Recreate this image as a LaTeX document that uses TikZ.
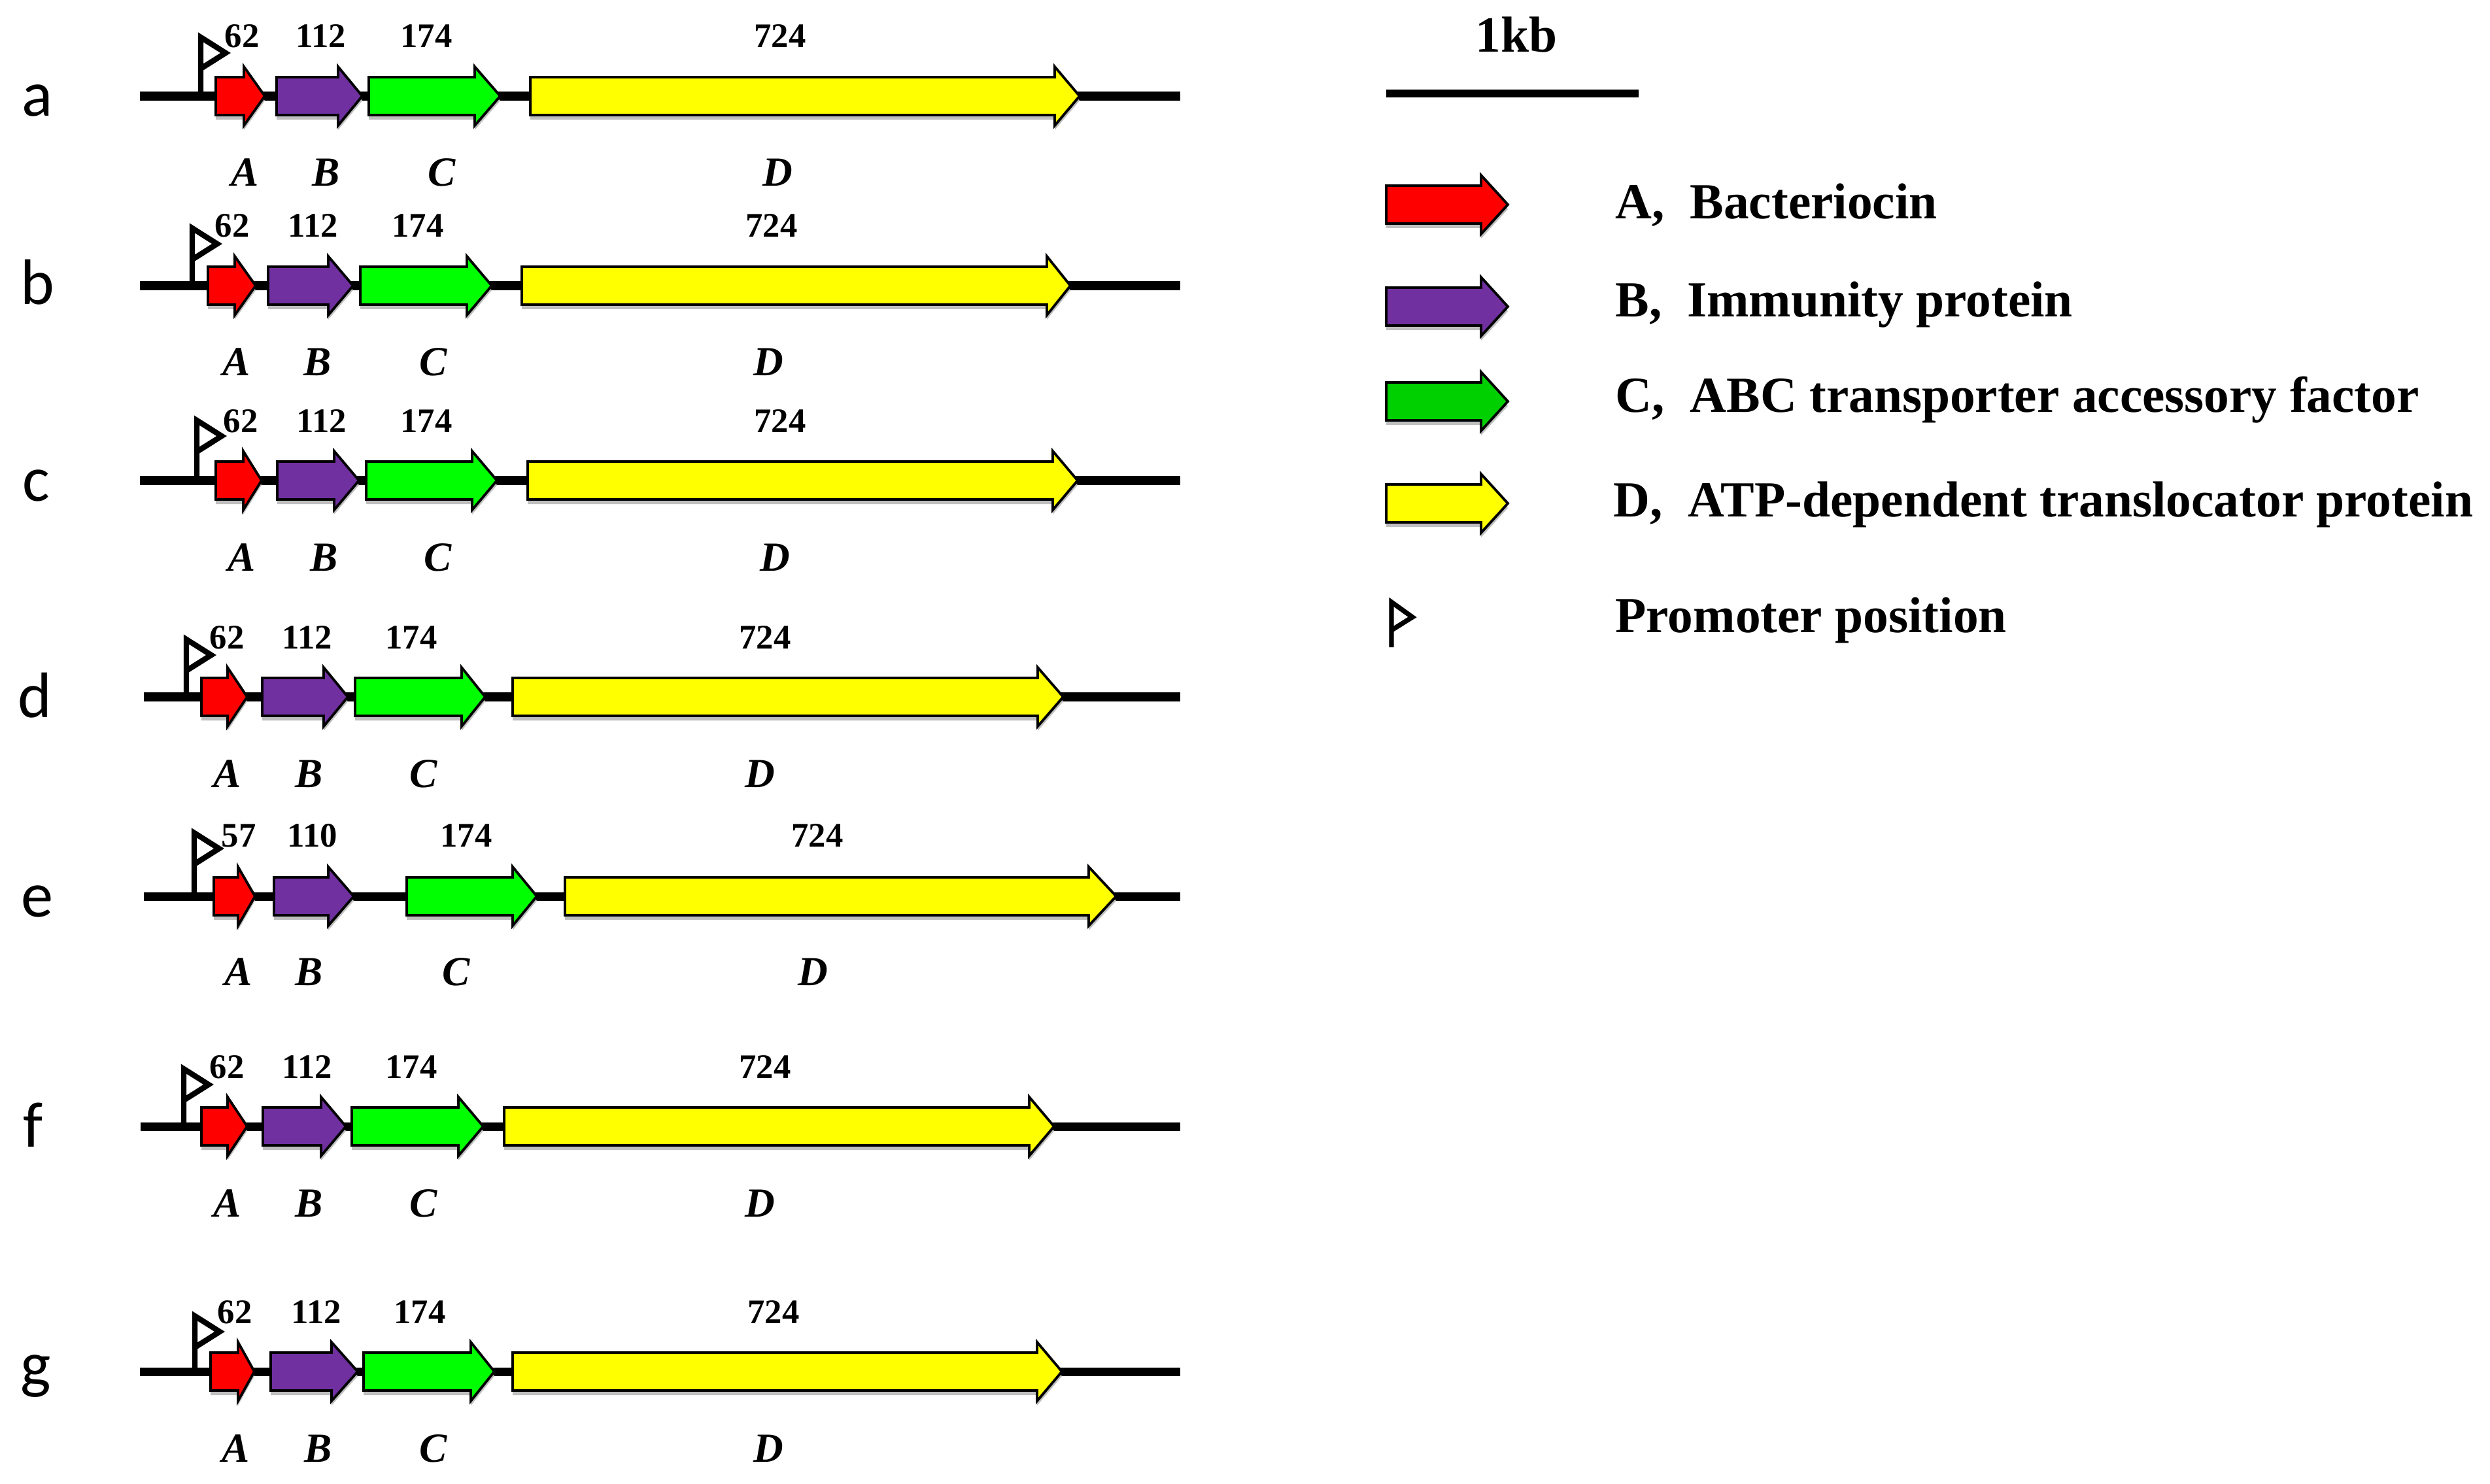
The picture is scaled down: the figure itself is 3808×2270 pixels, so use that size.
\documentclass[tikz,border=0pt]{standalone}
\usepackage{fontspec}
\setmainfont{Liberation Serif}
\newfontfamily\labfont{Carlito}
\definecolor{gRed}{HTML}{FF0000}
\definecolor{gPurple}{HTML}{7030A0}
\definecolor{gGreen}{HTML}{00FF00}
\definecolor{gGreenL}{HTML}{00D000}
\definecolor{gYellow}{HTML}{FFFF00}
\tikzset{
 num/.style={font=\fontsize{15}{18}\selectfont\bfseries, anchor=base, inner sep=0pt},
 gl/.style={font=\fontsize{18}{21}\selectfont\bfseries\itshape, anchor=base, inner sep=0pt},
 rowlab/.style={font=\labfont\fontsize{28}{32}\selectfont, anchor=base, inner sep=0pt},
 legtext/.style={font=\fontsize{22}{26}\selectfont\bfseries, anchor=base west, inner sep=0pt},
 backbone/.style={line width=3.7pt},
 prom/.style={line width=2.4pt, line join=miter},
 geneshape/.style={draw=black, line width=1.1pt, line join=miter},
 shadowshape/.style={fill=black!25},
}
% #1 left, #2 head base, #3 tip, #4 centre y, #5 colour
\newcommand\gene[5]{%
  \fill[shadowshape] (#1,#4-29+7) -- (#2,#4-29+7) -- (#2,#4-45+7) -- (#3,#4+7) -- (#2,#4+45+7) -- (#2,#4+29+7) -- (#1,#4+29+7) -- cycle;
  \filldraw[geneshape, fill=#5] (#1,#4-29) -- (#2,#4-29) -- (#2,#4-45) -- (#3,#4) -- (#2,#4+45) -- (#2,#4+29) -- (#1,#4+29) -- cycle;}
% #1 x, #2 centre y, #3 height
\newcommand\promoter[3]{%
  \draw[prom] (#1,#2) -- (#1,#2-#3) -- (#1+38,#2-#3+24) -- (#1,#2-#3+48);}
\begin{document}
\begin{tikzpicture}[x=0.01cm, y=-0.01cm]
\useasboundingbox (0,0) rectangle (3808,2270);
\fill[white] (0,0) rectangle (3808,2270);

% ---------- row a ----------
\draw[backbone] (214,147) -- (1805,147);
\promoter{307}{147}{90}
\gene{330}{373}{405}{147}{gRed}
\gene{423}{517}{554}{147}{gPurple}
\gene{564}{726}{765}{147}{gGreen}
\gene{811}{1613}{1651}{147}{gYellow}
\node[rowlab] (la) at (57,178) {a};
\node[num] (na1) at (370,73) {62};
\node[num] (na2) at (491,73) {112};
\node[num] (na3) at (652,73) {174};
\node[num] (na4) at (1193,73) {724};
\node[gl] (ga1) at (375,285) {A};
\node[gl] (ga2) at (499,285) {B};
\node[gl] (ga3) at (676,285) {C};
\node[gl] (ga4) at (1189,285) {D};

% ---------- row b ----------
\draw[backbone] (214,437) -- (1805,437);
\promoter{294}{437}{88}
\gene{318}{359}{391}{437}{gRed}
\gene{410}{502}{540}{437}{gPurple}
\gene{551}{714}{752}{437}{gGreen}
\gene{798}{1601}{1637}{437}{gYellow}
\node[rowlab] (lb) at (57,466) {b};
\node[num] (nb1) at (355,363) {62};
\node[num] (nb2) at (479,363) {112};
\node[num] (nb3) at (639,363) {174};
\node[num] (nb4) at (1180,363) {724};
\node[gl] (gb1) at (362,575) {A};
\node[gl] (gb2) at (486,575) {B};
\node[gl] (gb3) at (663,575) {C};
\node[gl] (gb4) at (1175,575) {D};

% ---------- row c ----------
\draw[backbone] (214,735) -- (1805,735);
\promoter{301}{735}{92}
\gene{330}{372}{400}{735}{gRed}
\gene{424}{511}{549}{735}{gPurple}
\gene{560}{722}{760}{735}{gGreen}
\gene{807}{1610}{1648}{735}{gYellow}
\node[rowlab] (lc) at (55,766) {c};
\node[num] (nc1) at (368,661) {62};
\node[num] (nc2) at (492,661) {112};
\node[num] (nc3) at (652,661) {174};
\node[num] (nc4) at (1193,661) {724};
\node[gl] (gc1) at (370,873) {A};
\node[gl] (gc2) at (496,873) {B};
\node[gl] (gc3) at (670,873) {C};
\node[gl] (gc4) at (1185,873) {D};

% ---------- row d ----------
\draw[backbone] (220,1066) -- (1805,1066);
\promoter{285}{1066}{88}
\gene{308}{348}{378}{1066}{gRed}
\gene{401}{495}{532}{1066}{gPurple}
\gene{543}{706}{742}{1066}{gGreen}
\gene{784}{1587}{1626}{1066}{gYellow}
\node[rowlab] (ld) at (53,1097) {d};
\node[num] (nd1) at (347,992) {62};
\node[num] (nd2) at (470,992) {112};
\node[num] (nd3) at (629,992) {174};
\node[num] (nd4) at (1170,992) {724};
\node[gl] (gd1) at (348,1204) {A};
\node[gl] (gd2) at (473,1204) {B};
\node[gl] (gd3) at (648,1204) {C};
\node[gl] (gd4) at (1162,1204) {D};

% ---------- row e ----------
\draw[backbone] (220,1371) -- (1805,1371);
\promoter{297}{1371}{97}
\gene{327}{364}{390}{1371}{gRed}
\gene{419}{502}{541}{1371}{gPurple}
\gene{622}{784}{821}{1371}{gGreen}
\gene{864}{1665}{1707}{1371}{gYellow}
\node[rowlab] (le) at (57,1402) {e};
\node[num] (ne1) at (365,1295) {57};
\node[num] (ne2) at (478,1295) {110};
\node[num] (ne3) at (713,1295) {174};
\node[num] (ne4) at (1250,1295) {724};
\node[gl] (ge1) at (365,1507) {A};
\node[gl] (ge2) at (473,1507) {B};
\node[gl] (ge3) at (698,1507) {C};
\node[gl] (ge4) at (1243,1507) {D};

% ---------- row f ----------
\draw[backbone] (215,1723) -- (1805,1723);
\promoter{281}{1723}{88}
\gene{308}{348}{378}{1723}{gRed}
\gene{402}{491}{529}{1723}{gPurple}
\gene{538}{701}{739}{1723}{gGreen}
\gene{771}{1574}{1612}{1723}{gYellow}
\node[rowlab] (lf) at (51,1754) {f};
\node[num] (nf1) at (347,1649) {62};
\node[num] (nf2) at (470,1649) {112};
\node[num] (nf3) at (629,1649) {174};
\node[num] (nf4) at (1170,1649) {724};
\node[gl] (gf1) at (348,1861) {A};
\node[gl] (gf2) at (473,1861) {B};
\node[gl] (gf3) at (648,1861) {C};
\node[gl] (gf4) at (1162,1861) {D};

% ---------- row g ----------
\draw[backbone] (214,2098) -- (1805,2098);
\promoter{298}{2098}{85}
\gene{322}{364}{389}{2098}{gRed}
\gene{414}{507}{547}{2098}{gPurple}
\gene{556}{720}{756}{2098}{gGreen}
\gene{784}{1586}{1624}{2098}{gYellow}
\node[rowlab] (lg) at (55,2120) {g};
\node[num] (ng1) at (359,2024) {62};
\node[num] (ng2) at (484,2024) {112};
\node[num] (ng3) at (642,2024) {174};
\node[num] (ng4) at (1183,2024) {724};
\node[gl] (gg1) at (361,2236) {A};
\node[gl] (gg2) at (487,2236) {B};
\node[gl] (gg3) at (663,2236) {C};
\node[gl] (gg4) at (1175,2236) {D};

% ---------- legend ----------
\node[font=\fontsize{22}{26}\selectfont\bfseries, anchor=base, inner sep=0pt] (kb) at (2319,80) {1kb};
\coordinate (sbL) at (2120,143);
\coordinate (sbR) at (2506,143);
\draw[line width=3.4pt] (sbL) -- (sbR);

\gene{2120}{2265}{2306}{313}{gRed}
\gene{2120}{2265}{2306}{469}{gPurple}
\gene{2120}{2265}{2306}{614}{gGreenL}
\gene{2120}{2265}{2306}{770}{gYellow}
\draw[prom, line width=2.1pt] (2128,990) -- (2128,921) -- (2160,944) -- (2128,964);

\node[legtext] (tA) at (2470,335) {A,\hspace{0.5em}Bacteriocin};
\node[legtext] (tB) at (2470,485) {B,\hspace{0.5em}Immunity protein};
\node[legtext] (tC) at (2470,630) {C,\hspace{0.5em}ABC transporter accessory factor};
\node[legtext] (tD) at (2467,790) {D,\hspace{0.5em}ATP-dependent translocator protein};
\node[legtext] (tP) at (2470,967) {Promoter position};
\end{tikzpicture}
\end{document}
